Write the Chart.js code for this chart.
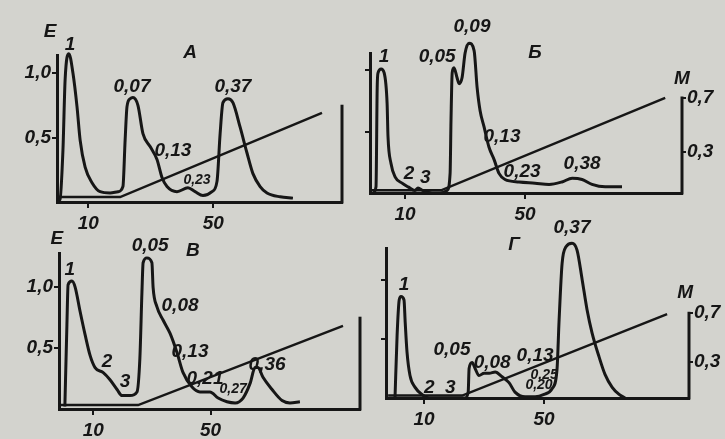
<!DOCTYPE html>
<html>
<head>
<meta charset="utf-8">
<script src="https://cdn.jsdelivr.net/npm/chart.js@4.4.1/dist/chart.umd.min.js"></script>
<style>
  body { margin: 0; background: #d3d3ce; }
  #wrap { position: relative; width: 725px; height: 439px; }
  canvas { position: absolute; left: 0; top: 0; }
</style>
</head>
<body>
<div id="wrap">
  <canvas id="pA" width="725" height="439"></canvas>
  <canvas id="pB" width="725" height="439"></canvas>
  <canvas id="pV" width="725" height="439"></canvas>
  <canvas id="pG" width="725" height="439"></canvas>
</div>
<script>
// tick values shared by all four panels
var xTicks = [10, 50];
var eTicks = [0.5, 1.0];
var mTicks = [0.3, 0.7];

// panel A: elution curve (fraction no. / E) and gradient (M)
var xA = [0.3, 0.96, 1.9, 2.6, 3.8, 5.1, 6.4, 7.4, 9.0, 11.2, 13.8, 17.0, 19.5, 21.1, 21.8, 22.4, 23.4, 24.3, 25.9, 27.5, 29.8, 32.0, 33.6, 35.2, 38.4, 41.9, 44.2, 46.7, 49.6, 51.2, 52.2, 53.1, 54.7, 56.3, 58.6, 60.8, 62.7, 65.0, 67.2, 71.4, 75.5];
var eA = [0.01, 0.02, 0.40, 0.95, 1.15, 1.00, 0.74, 0.48, 0.27, 0.15, 0.08, 0.07, 0.08, 0.12, 0.48, 0.74, 0.80, 0.81, 0.75, 0.53, 0.43, 0.33, 0.19, 0.12, 0.08, 0.11, 0.08, 0.05, 0.08, 0.16, 0.53, 0.77, 0.80, 0.77, 0.58, 0.38, 0.22, 0.12, 0.07, 0.04, 0.03];
var gxA = [0, 20.2, 84.8];
var gmA = [0.036, 0.036, 0.65];

// panel Б
var xB = [-0.7, 0.3, 0.7, 1.0, 2.0, 3.0, 4.0, 4.3, 5.3, 6.7, 9.0, 11.0, 13.3, 14.3, 16.0, 19.0, 21.7, 24.0, 25.0, 25.3, 25.7, 26.3, 27.3, 28.0, 29.0, 30.0, 31.3, 33.0, 34.0, 35.0, 36.3, 38.0, 39.7, 41.3, 43.3, 48.0, 53.3, 58.0, 62.3, 65.7, 69.0, 72.3, 76.7, 82.3];
var eB = [0, 0.05, 0.86, 0.98, 1.01, 0.98, 0.73, 0.46, 0.24, 0.13, 0.08, 0.05, 0.02, 0.04, 0.02, 0.0, 0.0, 0.02, 0.16, 0.59, 0.98, 1.02, 0.94, 0.89, 0.94, 1.14, 1.22, 1.16, 0.86, 0.67, 0.54, 0.37, 0.27, 0.16, 0.11, 0.09, 0.08, 0.07, 0.09, 0.12, 0.11, 0.07, 0.05, 0.05];
var gxB = [-1.5, 22, 96.7];
var gmB = [0.02, 0.02, 0.70];

// panel В
var xV = [0.3, 1.0, 1.4, 2.7, 3.8, 5.5, 7.2, 8.9, 10.6, 13.3, 15.7, 18.1, 19.8, 22.5, 24.9, 25.9, 26.6, 27.0, 28.3, 30.0, 30.4, 31.7, 33.8, 36.2, 38.6, 40.6, 43.7, 46.4, 49.8, 52.6, 55.6, 58.4, 61.1, 63.5, 65.2, 66.2, 67.9, 71.0, 74.4, 77.1, 80.5];
var eV = [0.02, 0.69, 1.02, 1.05, 1.00, 0.80, 0.61, 0.44, 0.34, 0.30, 0.24, 0.16, 0.11, 0.11, 0.14, 0.42, 0.96, 1.20, 1.24, 1.20, 1.00, 0.84, 0.73, 0.62, 0.46, 0.30, 0.18, 0.14, 0.14, 0.09, 0.06, 0.05, 0.09, 0.21, 0.34, 0.34, 0.26, 0.16, 0.07, 0.05, 0.06];
var gxV = [-1.5, 25.3, 95.2];
var gmV = [0.03, 0.03, 0.64];

// panel Г
var xG = [0.3, 1.0, 1.7, 2.3, 3.3, 3.7, 4.3, 5.3, 7.0, 9.3, 11.7, 23.7, 24.7, 25.0, 26.0, 27.0, 28.3, 30.0, 31.7, 33.7, 36.0, 38.3, 40.3, 43.7, 47.0, 50.0, 52.7, 54.3, 55.0, 56.0, 57.3, 59.3, 61.0, 62.7, 64.3, 66.0, 68.3, 70.3, 72.7, 75.0, 77.0];
var eG = [0, 0.53, 0.83, 0.86, 0.83, 0.64, 0.39, 0.19, 0.09, 0.03, 0.0, 0.0, 0.05, 0.25, 0.30, 0.25, 0.19, 0.21, 0.21, 0.22, 0.18, 0.13, 0.05, 0.01, 0.01, 0.03, 0.08, 0.24, 0.66, 1.14, 1.28, 1.31, 1.25, 1.00, 0.75, 0.55, 0.35, 0.20, 0.09, 0.03, 0.0];
var gxG = [-2, 22.7, 91];
var gmG = [0.02, 0.02, 0.69];

// text written on the plots: [text, x, E, small?]
var notesA = [['E', -2.2, 1.32], ['1', 4.2, 1.22], ['А', 42.6, 1.16], ['0,07', 24, 0.89], ['0,13', 37.1, 0.40], ['0,23', 44.8, 0.17, true], ['0,37', 56.3, 0.89]];
var notesB = [['1', 3, 1.11], ['0,05', 20.7, 1.11], ['0,09', 32.3, 1.35], ['Б', 53.3, 1.14], ['0,13', 42.3, 0.46], ['2', 11.3, 0.16], ['3', 16.7, 0.12], ['0,23', 49, 0.17], ['0,38', 69, 0.24], ['M', 102.3, 0.93]];
var notesV = [['E', -2.4, 1.40], ['0,05', 29.4, 1.34], ['В', 44, 1.30], ['1', 2, 1.14], ['0,08', 39.6, 0.85], ['0,13', 43, 0.47], ['2', 14.7, 0.39], ['3', 20.8, 0.22], ['0,21', 48.1, 0.25], ['0,27', 57.7, 0.16, true], ['0,36', 69.3, 0.36]];
var notesG = [['0,37', 59.3, 1.44], ['Г', 40, 1.30], ['1', 3.3, 0.96], ['M', 97, 0.89], ['0,05', 19.3, 0.41], ['0,08', 32.7, 0.30], ['0,13', 47, 0.36], ['0,25', 50, 0.19, true], ['0,20', 48.3, 0.11, true], ['2', 11.7, 0.09], ['3', 18.7, 0.09]];

var ink = '#161616';
var fam = '"Liberation Sans", Arial, sans-serif';
var font = { family: fam, style: 'italic', weight: 'bold', size: 19 };

// fixed axis box sizes so the plot areas land where the scan has them
var LEFT_W = 50, BOTTOM_H = 30, RIGHT_W = 35;

function pairs(xs, ys) {
  return xs.map(function (x, i) { return { x: x, y: ys[i] }; });
}
function comma(v) { return v.toFixed(1).replace('.', ','); }
function fixTicks(vals) {
  return function (s) { s.ticks = vals.map(function (v) { return { value: v }; }); };
}
function fixW(w) { return function (s) { s.width = w; }; }
function fixH(h) { return function (s) { s.height = h; }; }

// right (M) axis line and the peak labels
var notesPlugin = {
  id: 'notes',
  afterDatasetsDraw: function (chart, args, opts) {
    var c = chart.ctx, sx = chart.scales.x, sy = chart.scales.y, sm = chart.scales.y2;
    c.save();
    c.strokeStyle = ink;
    c.lineWidth = 3;
    c.beginPath();
    c.moveTo(chart.chartArea.right, sm.getPixelForValue(0) + 1.5);
    c.lineTo(chart.chartArea.right, sm.getPixelForValue(0.71));
    c.stroke();
    c.fillStyle = ink;
    c.textAlign = 'center';
    c.textBaseline = 'middle';
    opts.items.forEach(function (n) {
      c.font = 'italic bold ' + (n[3] ? 14 : 19) + 'px ' + fam;
      c.fillText(n[0], sx.getPixelForValue(n[1]), sy.getPixelForValue(n[2]));
    });
    c.restore();
  }
};

function drawPanel(id, p) {
  new Chart(document.getElementById(id), {
    type: 'line',
    data: {
      datasets: [
        { data: pairs(p.x, p.e), yAxisID: 'y', borderColor: ink, borderWidth: 3, pointRadius: 0, fill: false,
          tension: 0.4, cubicInterpolationMode: 'monotone', clip: false },
        { data: pairs(p.gx, p.gm), yAxisID: 'y2', borderColor: ink, borderWidth: 2.5, pointRadius: 0, fill: false,
          tension: 0, clip: false }
      ]
    },
    options: {
      responsive: false,
      animation: false,
      events: [],
      layout: { padding: {
        left: p.area[0] - LEFT_W,
        top: p.area[1],
        right: Math.max(0, 725 - p.area[2] - RIGHT_W),
        bottom: Math.max(0, 439 - p.area[3] - BOTTOM_H)
      } },
      plugins: { legend: { display: false }, tooltip: { enabled: false }, notes: { items: p.notes } },
      scales: {
        x: {
          type: 'linear', min: p.xr[0], max: p.xr[1],
          afterFit: fixH(BOTTOM_H), afterBuildTicks: fixTicks(xTicks),
          ticks: { color: ink, font: font, padding: 4, maxRotation: 0, autoSkip: false, callback: function (v) { return String(v); } },
          grid: { drawOnChartArea: false, color: ink, lineWidth: 2, tickLength: 6 },
          border: { color: ink, width: 3 }
        },
        y: {
          min: 0, max: p.eMax,
          afterFit: fixW(LEFT_W), afterBuildTicks: fixTicks(eTicks),
          ticks: { color: ink, font: font, padding: 1, autoSkip: false, callback: function (v) { return p.eLabels ? comma(v) : ''; } },
          grid: { drawOnChartArea: false, color: ink, lineWidth: 2, tickLength: 5 },
          border: { color: ink, width: 3 }
        },
        y2: {
          position: 'right', min: 0, max: p.mMax,
          afterFit: fixW(RIGHT_W), afterBuildTicks: fixTicks(p.mLabels ? mTicks : []),
          ticks: { color: ink, font: font, padding: 1, autoSkip: false, callback: function (v) { return comma(v); } },
          grid: { drawOnChartArea: false, color: ink, lineWidth: 2, tickLength: 4 },
          border: { display: false }
        }
      }
    },
    plugins: [notesPlugin]
  });
}

drawPanel('pA', { x: xA, e: eA, gx: gxA, gm: gmA, notes: notesA, area: [57, 55, 342, 202],
  xr: [0, 91.2], eMax: 1.14, mMax: 1.073, eLabels: true, mLabels: false });
drawPanel('pB', { x: xB, e: eB, gx: gxB, gm: gmB, notes: notesB, area: [370, 53, 682, 193],
  xr: [-1.7, 102.3], eMax: 1.14, mMax: 1.03, eLabels: false, mLabels: true });
drawPanel('pV', { x: xV, e: eV, gx: gxV, gm: gmV, notes: notesV, area: [59, 253, 360, 409],
  xr: [-1.7, 101], eMax: 1.28, mMax: 1.2, eLabels: true, mLabels: false });
drawPanel('pG', { x: xG, e: eG, gx: gxG, gm: gmG, notes: notesG, area: [386, 248, 689, 398],
  xr: [-2.7, 98.3], eMax: 1.27, mMax: 1.235, eLabels: false, mLabels: true });
</script>
</body>
</html>
